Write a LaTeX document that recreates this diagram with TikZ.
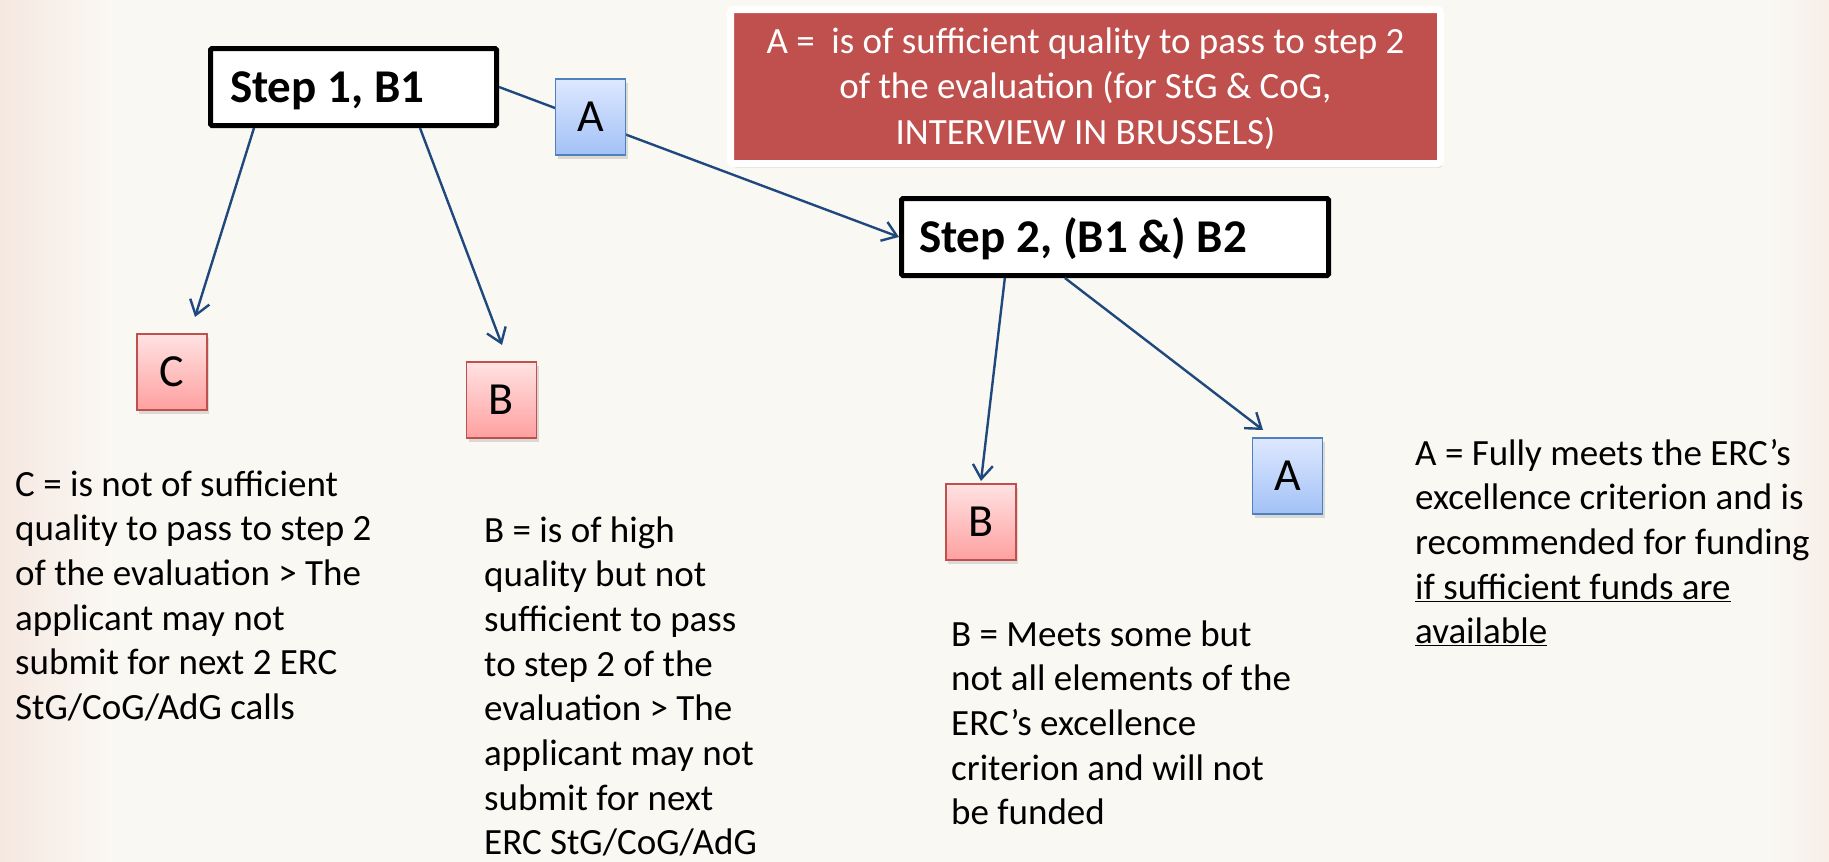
\documentclass[tikz,border=0pt]{standalone}
\usepackage{fontspec}
\setmainfont{Carlito}
\usetikzlibrary{arrows.meta,shadows,calc}
\definecolor{bgcol}{HTML}{FAF8F3}
\definecolor{bgpink}{HTML}{F5E8E0}
\definecolor{ercred}{HTML}{C0504D}
\definecolor{linecol}{HTML}{1F497D}
\definecolor{redtop}{HTML}{FFE2E2}
\definecolor{redbot}{HTML}{FFA0A0}
\definecolor{redline}{HTML}{C0504D}
\definecolor{bluetop}{HTML}{DEE8FF}
\definecolor{bluebot}{HTML}{A2C1F6}
\definecolor{blueline}{HTML}{4F81BD}
\begin{document}
\begin{tikzpicture}[x=1pt,y=-1pt,
  stepbox/.style={draw=black, line width=5pt, fill=white, rounded corners=1.5pt,
    minimum height=77pt, text height=31pt, text depth=0pt, align=flush left,
    font=\fontsize{47}{56}\selectfont\bfseries},
  gradebox/.style={line width=1.8pt, minimum width=70pt, minimum height=76pt, inner sep=0pt,
    font=\fontsize{46}{55}\selectfont,
    drop shadow={shadow xshift=2pt, shadow yshift=-4pt, opacity=0.25}},
  redgrade/.style={gradebox, draw=redline, top color=redtop, bottom color=redbot},
  bluegrade/.style={gradebox, draw=blueline, top color=bluetop, bottom color=bluebot},
  conn/.style={draw=linecol, line width=2.4pt, -{Straight Barb[length=14pt,width=20pt]}},
  desc/.style={anchor=base west, inner sep=0pt, text width=410pt, align=flush left,
    font=\fontsize{37}{44.7}\selectfont}
]
\useasboundingbox (0,0) rectangle (1829,862);
\fill[bgcol] (0,0) rectangle (1829,862);
\shade[left color=bgpink, right color=bgcol] (0,0) rectangle (110,862);
\shade[left color=bgcol, right color=bgpink!60!bgcol] (1770,0) rectangle (1829,862);

% red note
\node[draw=white, line width=7pt, fill=ercred, rounded corners=3pt,
  minimum width=710pt, minimum height=154pt, text width=690pt, align=flush center,
  text=white, text height=30pt, text depth=97pt, inner sep=0pt,
  font=\fontsize{37}{45.5}\selectfont,
  drop shadow={shadow xshift=2pt, shadow yshift=-4pt, opacity=0.25}]
  (note) at (1085.5,86.5)
  {A =\ \ is of sufficient quality to pass to step 2\\ of the evaluation (for StG \& CoG,\\ INTERVIEW IN BRUSSELS)};

% step boxes
\node[stepbox, minimum width=286pt, text width=247pt, inner xsep=19.5pt] (s1) at (353.5,87) {Step 1, B1};
\node[stepbox, minimum width=427pt, text width=392pt, inner xsep=17.5pt] (s2) at (1115,237) {Step 2, (B1 \&) B2};

% grade boxes
\node[redgrade] (gc) at (172,372) {C};
\node[redgrade] (gb1) at (501.5,400) {B};
\node[redgrade] (gb2) at (981,522) {B};
\node[bluegrade] (ga2) at (1287.5,476) {A};

% arrow ends
\coordinate (tC) at (195,317);
\coordinate (tB1) at (502,345);
\coordinate (tB2) at (981,481);
\coordinate (tA2) at (1263,430);

% connectors
\draw[conn] ($(s1.south west)!0.158!(s1.south east)$) -- (tC);
\draw[conn] ($(s1.south west)!0.7285!(s1.south east)$) -- (tB1);
\draw[conn] (s1.east) -- (s2.west);
\draw[conn] ($(s2.south west)!0.245!(s2.south east)$) -- (tB2);
\draw[conn] ($(s2.south west)!0.384!(s2.south east)$) -- (tA2);

\node[bluegrade] (ga1) at (590.5,117) {A};

% descriptions
\node[desc] (dc) at (15,496) {C = is not of sufficient\\ quality to pass to step 2\\ of the evaluation > The\\ applicant may not\\ submit for next 2 ERC\\ StG/CoG/AdG calls};
\node[desc] (db1) at (484,542) {B = is of high\\ quality but not\\ sufficient to pass\\ to step 2 of the\\ evaluation > The\\ applicant may not\\ submit for next\\ ERC StG/CoG/AdG};
\node[desc] (db2) at (951,646) {B = Meets some but\\ not all elements of the\\ ERC’s excellence\\ criterion and will not\\ be funded};
\node[desc] (da2) at (1415,465) {A = Fully meets the ERC’s\\ excellence criterion and is\\ recommended for funding\\ \underline{if sufficient funds are}\\ \underline{available}};
\end{tikzpicture}
\end{document}
